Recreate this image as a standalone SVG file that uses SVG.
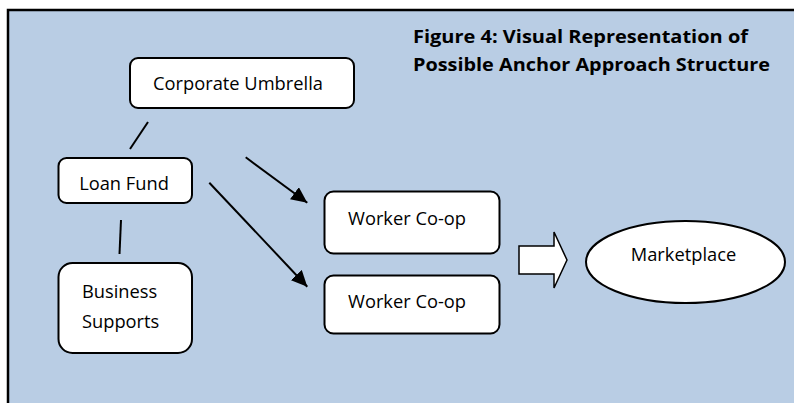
<svg xmlns="http://www.w3.org/2000/svg" width="794" height="403" viewBox="0 0 794 403">
<defs>
<style>
.box{fill:#fff;stroke:#000;stroke-width:2}
.t{font-family:"Open Sans","Liberation Sans",sans-serif;font-size:18.3px;fill:#000}
.title{font-family:"Open Sans","Liberation Sans",sans-serif;font-size:18.5px;font-weight:bold;fill:#000}
.ln{stroke:#000;stroke-width:2;fill:none}
</style>
<marker id="ah2" viewBox="0 0 16 15" refX="16" refY="7.5" markerWidth="16" markerHeight="15" markerUnits="userSpaceOnUse" orient="auto">
<path d="M0,0 L16,7.5 L0,15 z" fill="#000"/>
</marker>
</defs>
<rect x="8" y="10" width="800" height="410" fill="#B9CDE4" stroke="#000" stroke-width="2.5"/>
<g id="title">
<text class="title" x="413" y="43" textLength="335" lengthAdjust="spacingAndGlyphs">Figure 4: Visual Representation of</text>
<text class="title" x="413" y="71" textLength="357" lengthAdjust="spacingAndGlyphs">Possible Anchor Approach Structure</text>
</g>
<g id="connectors">
<line class="ln" x1="148" y1="122" x2="130" y2="149"/>
<line class="ln" x1="121" y1="220" x2="119.5" y2="254"/>
<line class="ln" x1="245.7" y1="157.3" x2="307.3" y2="202.7" marker-end="url(#ah2)"/>
<line class="ln" x1="209.3" y1="182.7" x2="307.3" y2="286.7" marker-end="url(#ah2)"/>
<path d="M519,246 H554 V232 L567,260 L554,288 V274 H519 Z" fill="#fff" stroke="#000" stroke-width="1.5"/>
</g>
<g id="corporate-umbrella">
<rect class="box" x="130" y="58" width="224" height="50" rx="8"/>
<text class="t" x="238" y="90" text-anchor="middle">Corporate Umbrella</text>
</g>
<g id="loan-fund">
<rect class="box" x="58.5" y="158" width="133.5" height="45" rx="8"/>
<text class="t" x="124" y="190" text-anchor="middle">Loan Fund</text>
</g>
<g id="business-supports">
<rect class="box" x="58.5" y="263" width="133.5" height="90" rx="14"/>
<text class="t" x="82" y="298">Business</text>
<text class="t" x="82" y="328">Supports</text>
</g>
<g id="worker-coop-1">
<rect class="box" x="324.5" y="191.5" width="175" height="62" rx="9"/>
<text class="t" x="348" y="225">Worker Co-op</text>
</g>
<g id="worker-coop-2">
<rect class="box" x="324.5" y="275.5" width="175" height="58" rx="9"/>
<text class="t" x="348" y="308">Worker Co-op</text>
</g>
<g id="marketplace">
<ellipse cx="685.5" cy="262" rx="99.5" ry="41" fill="#fff" stroke="#000" stroke-width="2"/>
<text class="t" x="683.5" y="261" text-anchor="middle">Marketplace</text>
</g>
</svg>
